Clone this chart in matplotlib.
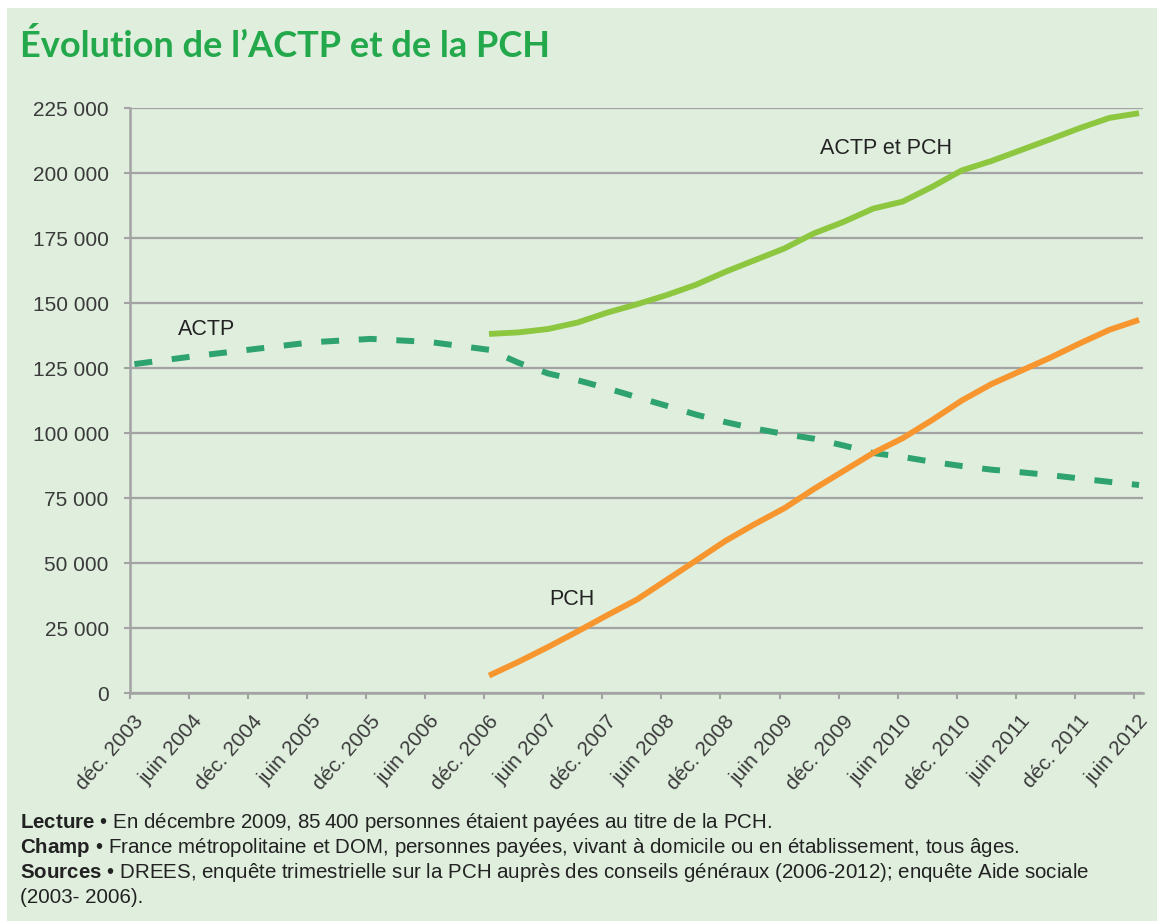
import matplotlib
matplotlib.use("Agg")
import matplotlib.pyplot as plt
from matplotlib.patches import Rectangle
from matplotlib.ticker import FuncFormatter
from matplotlib.transforms import ScaledTranslation

# ---------------- data ----------------
tick_labels = ["déc. 2003", "juin 2004", "déc. 2004", "juin 2005", "déc. 2005",
               "juin 2006", "déc. 2006", "juin 2007", "déc. 2007", "juin 2008",
               "déc. 2008", "juin 2009", "déc. 2009", "juin 2010", "déc. 2010",
               "juin 2011", "déc. 2011", "juin 2012"]
tick_months = [6 * i for i in range(len(tick_labels))]   # months since déc. 2003

actp_months = [0, 6, 12, 18, 24, 30, 36,
               39, 42, 45, 48, 51, 54, 57, 60, 63, 66, 69, 72, 75, 78, 81, 84,
               87, 90, 93, 96, 99, 102]
actp = [126500, 129500, 132200, 134900, 136200, 135000, 132000,
        127000, 122900, 120300, 117200, 113800, 110500, 107100, 104200, 101700,
        99600, 97800, 95200, 92300, 90800, 88900, 87300, 85900, 84900, 83800,
        82500, 81200, 80000]

pch_months = [36, 39, 42, 45, 48, 51, 54, 57, 60, 63, 66, 69, 72, 75, 78, 81,
              84, 87, 90, 93, 96, 99, 102]
pch = [6700, 12000, 17700, 23700, 29900, 35900, 43400, 50900, 58500, 65000,
       71100, 78500, 85400, 92300, 98000, 105000, 112500, 118800, 123900,
       129000, 134500, 139700, 143500]
actp_pch = [138100, 138700, 140000, 142500, 146300, 149500, 153000, 157000,
            162000, 166500, 171000, 176800, 181200, 186300, 189000, 194700,
            201000, 204600, 208800, 213000, 217300, 221200, 223000]

y_ticks = [0, 25000, 50000, 75000, 100000, 125000, 150000, 175000, 200000, 225000]

title = "Évolution de l’ACTP et de la PCH"
notes = [
    ("Lecture", " • En décembre 2009, 85\u202f400 personnes étaient payées au titre de la PCH."),
    ("Champ", " • France métropolitaine et DOM, personnes payées, vivant à domicile ou en établissement, tous âges."),
    ("Sources", " • DREES, enquête trimestrielle sur la PCH auprès des conseils généraux (2006-2012); enquête Aide sociale"),
    ("", "(2003- 2006)."),
]

# ---------------- style ----------------
BG = "#dfeedd"
GRID = "#a3a3a3"
TXT = "#3a3a3a"
C_ACTP = "#2ea36f"
C_PCH = "#f7962f"
C_SUM = "#8dc63f"
DATE_OFFSET = 0.5

plt.rcParams["font.family"] = ["Liberation Sans", "DejaVu Sans"]
plt.rcParams["mathtext.fontset"] = "custom"
plt.rcParams["mathtext.bf"] = "Liberation Sans:bold"
plt.rcParams["mathtext.rm"] = "Liberation Sans"

W, H = 1157, 921
fig = plt.figure(figsize=(W / 100, H / 100), dpi=100)
fig.patch.set_facecolor("white")
fig.add_artist(Rectangle((7 / W, 0), 1 - 7 / W, 1 - 8 / H, transform=fig.transFigure,
                         facecolor=BG, edgecolor="none", zorder=-10))

ax = fig.add_axes([129.5 / W, 1 - 693 / H, (1143 - 129.5) / W, 585 / H])
ax.set_facecolor(BG)

ax.plot([m + DATE_OFFSET for m in actp_months], actp, color=C_ACTP, lw=4.3,
        dashes=(3.0, 3.3), dash_capstyle="butt", solid_joinstyle="round", zorder=3)
ax.plot([m + DATE_OFFSET for m in pch_months], pch, color=C_PCH, lw=4.2,
        solid_joinstyle="round", solid_capstyle="butt", zorder=4)
ax.plot([m + DATE_OFFSET for m in pch_months], actp_pch, color=C_SUM, lw=4.2,
        solid_joinstyle="round", solid_capstyle="butt", zorder=4)

ax.set_xlim(0, 102.9)
ax.set_ylim(0, 225000)
ax.set_yticks(y_ticks)
ax.yaxis.set_major_formatter(FuncFormatter(lambda v, p: f"{int(v):,}".replace(",", " ")))
ax.set_xticks(tick_months)
ax.set_xticklabels(tick_labels)

ax.grid(axis="y", color=GRID, lw=1.6, zorder=1)
ax.set_axisbelow(True)
for s in ["top", "right"]:
    ax.spines[s].set_visible(False)
for s in ["left", "bottom"]:
    ax.spines[s].set_color(GRID)
    ax.spines[s].set_linewidth(1.8)

ax.tick_params(axis="y", length=4, width=1.5, color=GRID, labelsize=15,
               labelcolor=TXT, pad=11)
ax.tick_params(axis="x", length=4, width=1.5, color=GRID, labelsize=15,
               labelcolor=TXT, pad=8)
for lbl in ax.get_xticklabels():
    lbl.set_rotation(49)
    lbl.set_ha("right")
    lbl.set_va("center")
    lbl.set_rotation_mode("anchor")
    lbl.set_transform(lbl.get_transform() + ScaledTranslation(0.11, -0.08, fig.dpi_scale_trans))

ax.text(4.9, 140000, "ACTP", fontsize=15.5, color="#222222", va="center", ha="left")
ax.text(70.1, 209600, "ACTP et PCH", fontsize=15.5, color="#222222", va="center", ha="left")
ax.text(42.6, 35800, "PCH", fontsize=15.5, color="#222222", va="center", ha="left")

fig.text(20 / W, 1 - 46 / H, title, fontsize=26, fontweight="bold", color="#23a84b",
         family=["Lato", "DejaVu Sans"], va="center", ha="left")

y0 = 822
for i, (b, rest) in enumerate(notes):
    s = (r"$\mathbf{" + b + "}$" + rest) if b else rest
    fig.text(20 / W, 1 - (y0 + 25 * i) / H, s, fontsize=14.8, color="#222222",
             va="center", ha="left")

fig.savefig("out.png", dpi=100, facecolor=fig.get_facecolor())
